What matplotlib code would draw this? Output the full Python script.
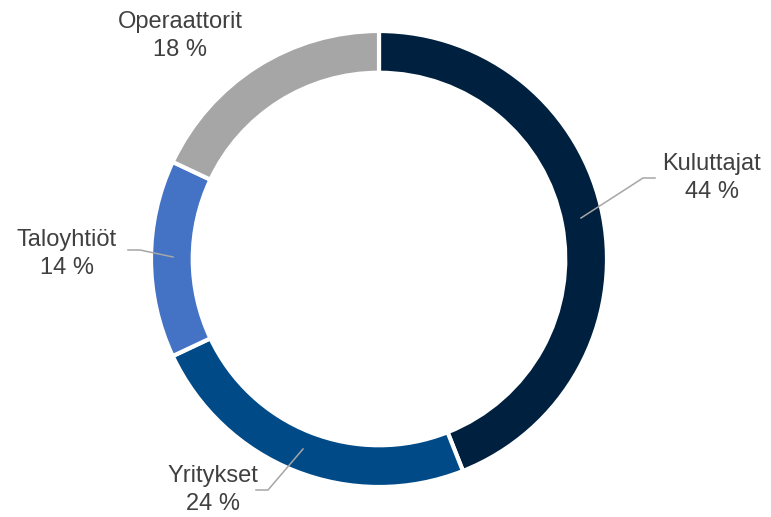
import matplotlib.pyplot as plt

# data
labels = ['Kuluttajat', 'Yritykset', 'Taloyhtiöt', 'Operaattorit']
shares = [44, 24, 14, 18]
colors = ['#00203f', '#004a87', '#4472c4', '#a6a6a6']

plt.rcParams['font.family'] = ['Liberation Sans', 'DejaVu Sans']

# figure in pixels: ring centre at (379, 258), radius 228 px
W, H = 771, 517
cx, cy, R = 379, 259, 228

def px(x, y):
    # pixel position (from top-left) -> data coords of the pie
    return (x - cx) / R, (cy - y) / R

fig = plt.figure(figsize=(W / 100, H / 100), dpi=100)
ax = fig.add_axes([0, 0, 1, 1])
ax.pie(shares, colors=colors, startangle=90, counterclock=False, radius=1,
       wedgeprops=dict(width=0.183, edgecolor='white', linewidth=3))
ax.set_xlim(-cx / R, (W - cx) / R)
ax.set_ylim(-(H - cy) / R, cy / R)
ax.set_aspect('equal')
ax.axis('off')

# label text centres and leader lines (pixel coords)
text_pos = [(712, 178), (213, 490), (67, 254), (180, 36)]
leaders = [
    [(581, 218), (643, 178), (655, 178)],
    [(303, 449), (268, 490), (256, 490)],
    [(173, 257), (140, 250), (128, 250)],
    None,
]

for lab, val, tp, ld in zip(labels, shares, text_pos, leaders):
    x, y = px(*tp)
    ax.text(x, y, f'{lab}\n{val} %', ha='center', va='center',
            fontsize=17, color='#404040', linespacing=1.3)
    if ld:
        xs, ys = zip(*[px(*p) for p in ld])
        ax.plot(xs, ys, color='#a6a6a6', lw=1.1)

plt.savefig('out.png', dpi=100)
